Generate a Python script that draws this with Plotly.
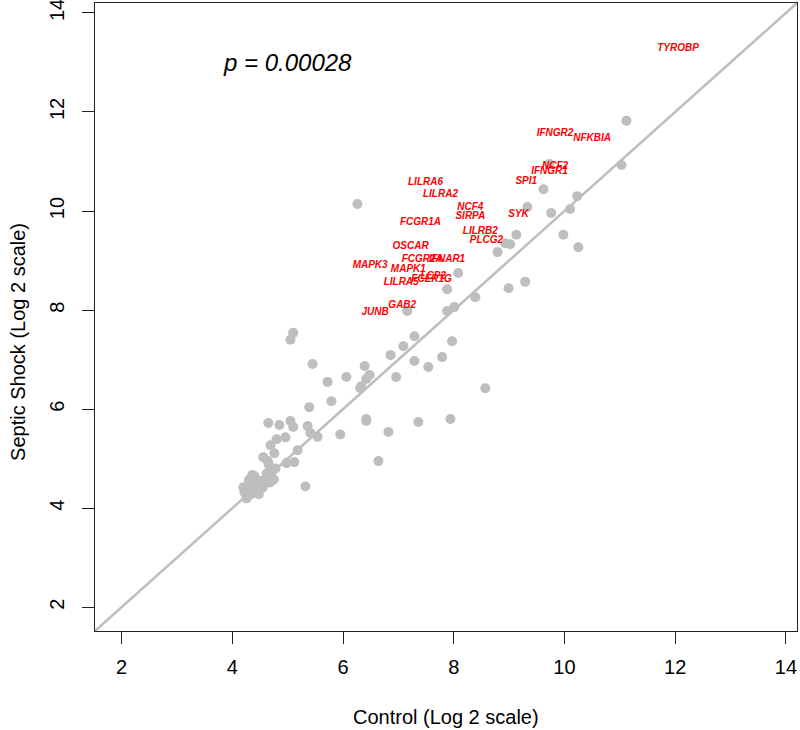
import plotly.graph_objects as go

# Gray (unlabelled) genes: control vs septic shock, log2
gray_x = [11.12, 11.03, 9.73, 9.62, 10.23, 10.10, 9.33, 9.76, 9.98, 9.13,
          10.25, 8.93, 9.02, 8.79, 8.08, 7.88, 8.39, 8.99, 9.29, 7.88,
          8.01, 7.16, 7.29, 7.09, 7.97, 7.29, 7.54, 7.79, 8.57, 7.94,
          7.36, 6.82, 6.64, 6.26, 5.10, 5.05, 5.45, 5.72, 6.06, 6.39,
          6.48, 6.42, 6.33, 6.31, 6.86, 6.96, 5.79, 5.39, 4.65, 4.85,
          5.05, 5.10, 5.36, 5.41, 5.54, 5.95, 6.42, 6.42, 5.32, 5.18,
          4.96, 4.80, 4.69, 4.56, 4.76, 4.98, 5.12, 4.36, 4.30, 4.23,
          4.26, 4.32, 4.52, 4.66, 4.70, 4.62, 4.53, 4.44, 4.34, 4.20,
          4.22, 4.25, 4.35, 4.38, 4.40, 4.45, 4.50, 4.55, 4.60, 4.62,
          4.65, 4.68, 4.70, 4.72, 4.75, 4.42, 4.48, 4.58, 4.78, 4.64]
gray_y = [11.82, 10.93, 10.95, 10.44, 10.30, 10.04, 10.08, 9.96, 9.52, 9.52,
          9.27, 9.35, 9.33, 9.17, 8.75, 8.42, 8.26, 8.44, 8.57, 7.98,
          8.06, 7.98, 7.47, 7.27, 7.37, 6.97, 6.85, 7.05, 6.42, 5.80,
          5.74, 5.54, 4.95, 10.14, 7.54, 7.40, 6.91, 6.55, 6.65, 6.87,
          6.69, 6.61, 6.46, 6.42, 7.09, 6.65, 6.16, 6.04, 5.72, 5.68,
          5.76, 5.64, 5.66, 5.52, 5.44, 5.49, 5.80, 5.76, 4.44, 5.17,
          5.43, 5.39, 5.27, 5.03, 5.11, 4.91, 4.93, 4.67, 4.57, 4.40,
          4.20, 4.35, 4.55, 4.88, 4.73, 4.60, 4.45, 4.38, 4.28, 4.42,
          4.32, 4.20, 4.45, 4.55, 4.65, 4.35, 4.50, 4.42, 4.55, 4.70,
          4.60, 4.52, 4.75, 4.62, 4.58, 4.40, 4.28, 4.48, 4.80, 4.95]

# Labelled (red) genes
genes = ["TYROBP", "IFNGR2", "NFKBIA", "NCF2", "IFNGR1", "SPI1", "LILRA6",
         "LILRA2", "NCF4", "SIRPA", "SYK", "FCGR1A", "LILRB2", "PLCG2",
         "OSCAR", "FCGR2A", "IFNAR1", "MAPK3", "MAPK1", "LCP2", "FCER1G",
         "LILRA5", "GAB2", "JUNB"]
gene_x = [12.05, 9.83, 10.50, 9.83, 9.73, 9.31, 7.49, 7.76, 8.30, 8.30,
          9.17, 7.40, 8.48, 8.59, 7.22, 7.43, 7.88, 6.49, 7.18, 7.63, 7.60,
          7.05, 7.07, 6.58]
gene_y = [13.29, 11.56, 11.47, 10.89, 10.79, 10.59, 10.57, 10.34, 10.08, 9.88,
          9.92, 9.76, 9.58, 9.41, 9.29, 9.03, 9.03, 8.91, 8.81, 8.68, 8.61,
          8.56, 8.10, 7.96]

x_ticks = [2, 4, 6, 8, 10, 12, 14]
y_ticks = [2, 4, 6, 8, 10, 12, 14]
axis_range = [1.52, 14.2]
p_label = "p = 0.00028"

FONT = "Liberation Sans, Arial, Helvetica, sans-serif"

fig = go.Figure()

fig.add_shape(type="line", xref="x", yref="y",
              x0=axis_range[0], y0=axis_range[0],
              x1=axis_range[1], y1=axis_range[1],
              line=dict(color="#BEBEBE", width=2.5), layer="below")

fig.add_trace(go.Scatter(
    x=gray_x, y=gray_y, mode="markers",
    marker=dict(color="#BEBEBE", size=10, line=dict(width=0)),
    hoverinfo="skip", showlegend=False))

fig.add_trace(go.Scatter(
    x=gene_x, y=gene_y, mode="text", text=genes,
    textposition="middle center",
    textfont=dict(family=FONT, size=10, color="#FF0000",
                  style="italic", weight="bold"),
    showlegend=False))

fig.add_annotation(x=5.0, y=13.0, xref="x", yref="y", text=p_label,
                   showarrow=False,
                   font=dict(family=FONT, size=24, color="black", style="italic"))

fig.add_annotation(x=0.5, y=-0.137, xref="paper", yref="paper",
                   text="Control (Log 2 scale)", showarrow=False,
                   xanchor="center", yanchor="middle",
                   font=dict(family=FONT, size=20, color="black"))
fig.add_annotation(x=-0.11, y=0.46, xref="paper", yref="paper",
                   text="Septic Shock (Log 2 scale)", showarrow=False,
                   textangle=-90, xanchor="center", yanchor="middle",
                   font=dict(family=FONT, size=20, color="black"))

axis_common = dict(range=axis_range, showline=True, mirror=True,
                   linecolor="#222222", linewidth=1.3, showgrid=False,
                   zeroline=False, ticks="outside", ticklen=12,
                   tickcolor="#222222", tickwidth=1.3, automargin=False,
                   ticklabeloverflow="allow",
                   tickfont=dict(family=FONT, size=20, color="black"))

fig.update_xaxes(tickvals=x_ticks, ticktext=[str(t) for t in x_ticks],
                 ticklabelstandoff=6, **axis_common)
fig.update_yaxes(tickvals=y_ticks, ticktext=[str(t) for t in y_ticks],
                 tickangle=-90, ticklabelstandoff=10, **axis_common)

fig.update_layout(width=800, height=730,
                  margin=dict(l=95, r=3, t=3, b=99),
                  plot_bgcolor="white", paper_bgcolor="white",
                  showlegend=False)

# remove the default 8px page margin so the figure fills the window exactly
fig.write_html("out.html",
               config={"displayModeBar": False},
               post_script="document.body.style.margin='0';"
                           "document.documentElement.style.overflow='hidden';")
